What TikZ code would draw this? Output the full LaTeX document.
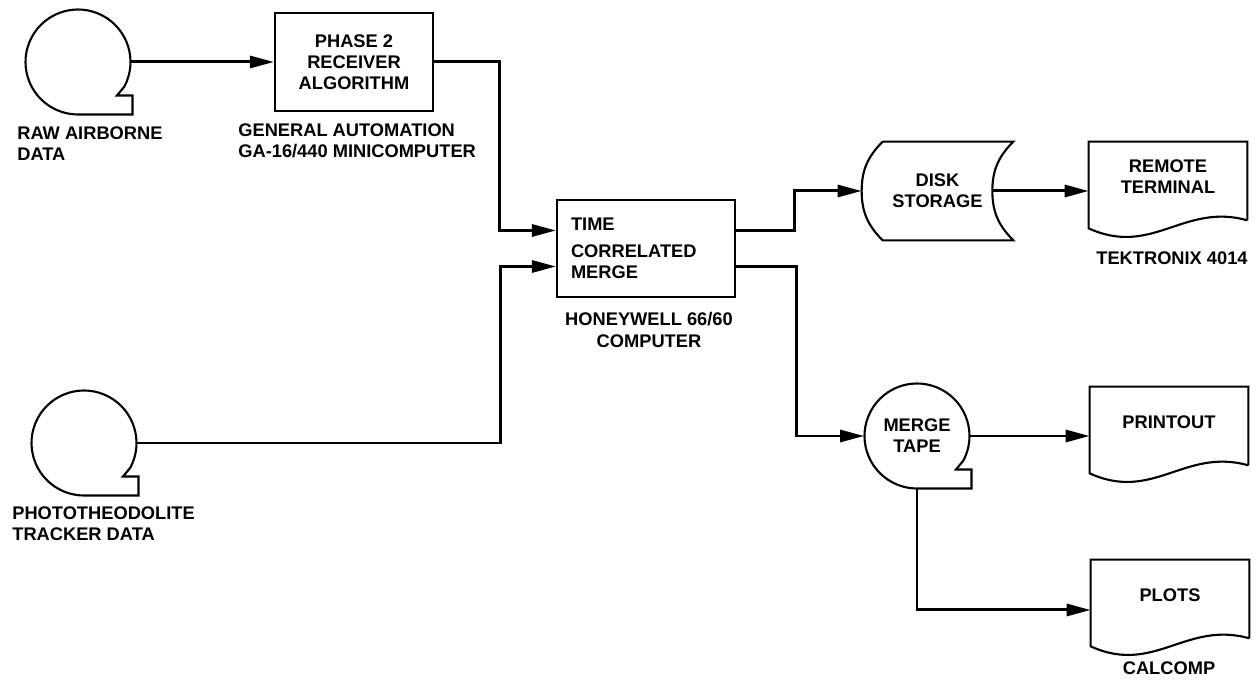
\documentclass[tikz,border=0pt]{standalone}
\usepackage{fontspec}
\setmainfont{Liberation Sans}
\usetikzlibrary{positioning, arrows.meta, calc}

\newcommand{\lettering}{\bfseries\fontsize{10.4}{12}\selectfont}
% tape reel: circle with a small tab at the lower right
\newcommand{\tapeoutline}[1]{%
  \draw[outl] ([shift={(-28:1.05cm)}]#1.center) arc[start angle=-28, end angle=270, radius=1.05cm]
    -- ([shift={(1.09cm,-1.05cm)}]#1.center) -- ([shift={(1.09cm,-0.67cm)}]#1.center)
    -- ([shift={(0.78cm,-0.67cm)}]#1.center) -- cycle;}
% disk storage
\newcommand{\diskoutline}[1]{%
  \draw[outl] ([xshift=0.42cm]#1.north west) -- (#1.north east)
    to[out=225, in=90] ([xshift=-0.42cm]#1.east) to[out=270, in=135] (#1.south east)
    -- ([xshift=0.42cm]#1.south west) to[out=135, in=270] (#1.west)
    to[out=90, in=225] ([xshift=0.42cm]#1.north west);}
% document with wavy bottom
\newcommand{\docoutline}[1]{%
  \draw[outl] ([yshift=-0.16cm]#1.south east) -- (#1.north east) -- (#1.north west)
    -- ([yshift=-0.32cm]#1.south west)
    .. controls ($(#1.south west)!0.4!(#1.south east)+(0,-0.9cm)$) and ($(#1.south west)!0.6!(#1.south east)+(0,0.2cm)$)
    .. ([yshift=-0.16cm]#1.south east);}

\begin{document}
\begin{tikzpicture}[x=0.02cm, y=0.02cm,
      box/.style={draw, line width=1.2pt, minimum width=3.16cm, minimum height=1.96cm,
                  align=center, font=\lettering},
      tape/.style={circle, minimum size=2.1cm, inner sep=0pt, align=center, font=\lettering},
      store/.style={minimum width=3.02cm, minimum height=1.96cm, align=center, font=\lettering},
      doc/.style={minimum width=3.16cm, minimum height=1.4cm, align=center, font=\lettering},
      lbl/.style={font=\lettering, inner sep=0pt},
      outl/.style={line width=1.2pt},
      arr/.style={-{Triangle[length=4.8mm, width=2.4mm]}, line width=1.7pt}]
    \useasboundingbox (0,0) rectangle (1259,683);

    % sources
    \node[tape] (rawtape) at (78,621) {};
    \node[tape] (phototape) at (84,240) {};
    \node[box] (phase) at (354,621) {PHASE 2\\RECEIVER\\ALGORITHM};
    \node[box, minimum width=3.56cm, minimum height=1.94cm, align=left, text width=3.0cm] (merge)
      at (646,434.5) {TIME\\[3pt]CORRELATED\\MERGE};

    % outputs
    \node[store] (disk) at (937.5,492) {DISK\\STORAGE};
    \node[tape] (mergetape) at (917,247) {MERGE\\TAPE};
    \node[doc] (remote) at (1168,506) {REMOTE\\TERMINAL};
    \node[doc] (printout) at (1169,261) {PRINTOUT};
    \node[doc] (plots) at (1170,88) {PLOTS};

    \tapeoutline{rawtape}
    \tapeoutline{phototape}
    \tapeoutline{mergetape}
    \diskoutline{disk}
    \docoutline{remote}
    \docoutline{printout}
    \docoutline{plots}

    % labels
    \node[lbl, align=left, anchor=north west] (rawlbl) at (17,556.5) {RAW AIRBORNE\\DATA};
    \node[lbl, align=left, anchor=north west] (galbl) at (238,559.5) {GENERAL AUTOMATION\\GA-16/440 MINICOMPUTER};
    \node[lbl, align=left, anchor=north west] (photolbl) at (12,176.5) {PHOTOTHEODOLITE\\TRACKER DATA};
    \node[lbl, align=center] (hwlbl) at (649,353) {HONEYWELL 66/60\\COMPUTER};
    \node[lbl] (teklbl) at (1172,425) {TEKTRONIX 4014};
    \node[lbl] (callbl) at (1169,15) {CALCOMP};

    % flow
    \draw[arr] (rawtape) -- (phase);
    \draw[arr] (phase.east) -- ++(65,0) |- ([yshift=0.36cm]merge.west);
    \draw[arr] (phototape.east) -- ++(364,0) |- ([yshift=-0.36cm]merge.west);
    \draw[arr] ([yshift=0.36cm]merge.east) -- ++(58,0) |- (disk.west);
    \draw[arr] ([yshift=-0.36cm]merge.east) -- ++(60,0) |- (mergetape.west);
    \draw[arr] ([xshift=-0.42cm]disk.east) -- (remote.west |- disk.east);
    \draw[arr] (mergetape.east) -- (printout.west |- mergetape.east);
    \draw[arr] (mergetape.south) |- ([yshift=-0.3cm]plots.west);
\end{tikzpicture}
\end{document}
